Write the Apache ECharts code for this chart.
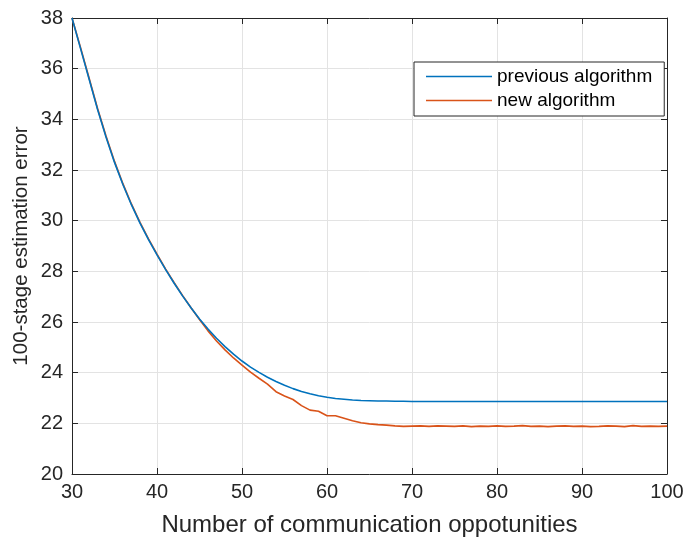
<!DOCTYPE html>
<html>
<head>
<meta charset="utf-8">
<script src="https://cdn.jsdelivr.net/npm/echarts@6/dist/echarts.min.js"></script>
<style>
html, body { margin: 0; padding: 0; background: #fff; }
#chart { width: 686px; height: 539px; }
</style>
</head>
<body>
<div id="chart"></div>
<script>
var xValues = [];
for (var i = 30; i <= 100; i++) xValues.push(i);

var previousAlg = [
	38.00, 36.80, 35.60, 34.40, 33.30, 32.30, 31.42, 30.62, 29.90, 29.25,
	28.65, 28.08, 27.54, 27.03, 26.56, 26.12, 25.72, 25.36, 25.03, 24.73,
	24.46, 24.22, 24.01, 23.82, 23.65, 23.50, 23.37, 23.26, 23.17, 23.09,
	23.03, 22.98, 22.95, 22.92, 22.90, 22.89, 22.88, 22.88, 22.87, 22.87,
	22.86, 22.86, 22.86, 22.86, 22.86, 22.86, 22.86, 22.86, 22.86, 22.86,
	22.86, 22.86, 22.86, 22.86, 22.86, 22.86, 22.86, 22.86, 22.86, 22.86,
	22.86, 22.86, 22.86, 22.86, 22.86, 22.86, 22.86, 22.86, 22.86, 22.86,
	22.86
];

var newAlg = [
	38.00, 36.84, 35.64, 34.44, 33.34, 32.34, 31.45, 30.65, 29.93, 29.28,
	28.68, 28.10, 27.56, 27.05, 26.56, 26.10, 25.65, 25.25, 24.90, 24.58,
	24.30, 24.02, 23.78, 23.55, 23.25, 23.08, 22.94, 22.70, 22.52, 22.48,
	22.30, 22.30, 22.20, 22.10, 22.02, 21.98, 21.95, 21.93, 21.90, 21.88,
	21.89, 21.90, 21.88, 21.90, 21.89, 21.88, 21.90, 21.87, 21.89, 21.88,
	21.90, 21.88, 21.89, 21.91, 21.88, 21.89, 21.87, 21.89, 21.90, 21.88,
	21.89, 21.87, 21.88, 21.90, 21.89, 21.87, 21.91, 21.88, 21.89, 21.88,
	21.89
];

var xTicks = [30, 40, 50, 60, 70, 80, 90, 100];
var yTicks = [20, 22, 24, 26, 28, 30, 32, 34, 36, 38];

var font = 'Liberation Sans, Arial, Helvetica, sans-serif';
var axisColor = '#262626';
var gridColor = '#e3e3e3';

function pairs(ys) {
	return xValues.map(function (x, i) { return [x, ys[i]]; });
}

var chart = echarts.init(document.getElementById('chart'));
var option = {
	animation: false,
	backgroundColor: '#fff',
	grid: { left: 72, right: 19, top: 18, bottom: 65, outerBoundsMode: 'none' },
	legend: {
		left: 414,
		top: 62,
		orient: 'vertical',
		icon: 'rect',
		itemWidth: 66,
		itemHeight: 1.5,
		itemGap: 5,
		padding: [5, 12, 6, 12],
		backgroundColor: '#fff',
		borderColor: '#262626',
		borderWidth: 1,
		borderRadius: 0,
		textStyle: { fontFamily: font, fontSize: 19, color: '#000', lineHeight: 19 },
		data: ['previous algorithm', 'new algorithm']
	},
	xAxis: [{
		type: 'value',
		min: xTicks[0],
		max: xTicks[xTicks.length - 1],
		interval: 10,
		name: 'Number of communication oppotunities',
		nameLocation: 'middle',
		nameGap: 39,
		nameMoveOverlap: false,
		nameTextStyle: { fontFamily: font, fontSize: 24, color: '#262626' },
		axisLine: { lineStyle: { color: axisColor, width: 1 } },
		axisTick: { inside: true, length: 6, lineStyle: { color: axisColor } },
		axisLabel: { fontFamily: font, fontSize: 20, color: '#262626', margin: 8 },
		splitLine: { show: true, lineStyle: { color: gridColor, width: 1 } }
	}, {
		type: 'value',
		position: 'top',
		min: xTicks[0],
		max: xTicks[xTicks.length - 1],
		interval: 10,
		axisLine: { show: true, lineStyle: { color: axisColor, width: 1 } },
		axisTick: { inside: true, length: 6, lineStyle: { color: axisColor } },
		axisLabel: { show: false },
		splitLine: { show: false }
	}],
	yAxis: [{
		type: 'value',
		min: yTicks[0],
		max: yTicks[yTicks.length - 1],
		interval: 2,
		name: '100-stage estimation error',
		nameLocation: 'middle',
		nameGap: 40,
		nameMoveOverlap: false,
		nameTextStyle: { fontFamily: font, fontSize: 20.5, color: '#262626' },
		axisLine: { show: true, lineStyle: { color: axisColor, width: 1 } },
		axisTick: { show: true, inside: true, length: 6, lineStyle: { color: axisColor } },
		axisLabel: { fontFamily: font, fontSize: 20, color: '#262626', margin: 9 },
		splitLine: { show: true, lineStyle: { color: gridColor, width: 1 } }
	}, {
		type: 'value',
		position: 'right',
		min: yTicks[0],
		max: yTicks[yTicks.length - 1],
		interval: 2,
		axisLine: { show: true, lineStyle: { color: axisColor, width: 1 } },
		axisTick: { show: true, inside: true, length: 6, lineStyle: { color: axisColor } },
		axisLabel: { show: false },
		splitLine: { show: false }
	}],
	series: [{
		name: 'previous algorithm',
		type: 'line',
		symbol: 'none',
		color: '#0072BD',
		lineStyle: { width: 1.6 },
		data: pairs(previousAlg),
		z: 3
	}, {
		name: 'new algorithm',
		type: 'line',
		symbol: 'none',
		color: '#D95319',
		lineStyle: { width: 1.6 },
		data: pairs(newAlg),
		z: 2
	}]
};
chart.setOption(option);
</script>
</body>
</html>
